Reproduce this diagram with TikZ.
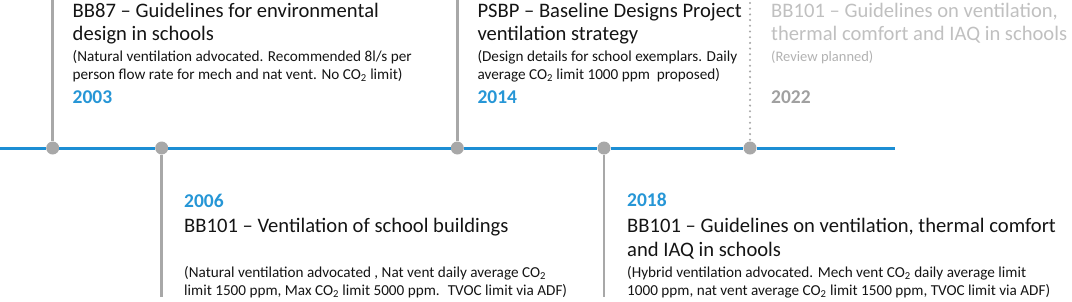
\documentclass[tikz,border=0pt]{standalone}
\usepackage{fontspec}
\setmainfont{Carlito}
\definecolor{lineblue}{RGB}{28,142,212}
\definecolor{yearblue}{RGB}{38,150,214}
\definecolor{stemgray}{RGB}{168,168,168}
\definecolor{txt}{RGB}{20,20,20}
\definecolor{ltitle}{RGB}{192,192,192}
\definecolor{lnote}{RGB}{178,178,178}
\definecolor{lyear}{RGB}{160,160,160}
\begin{document}
\begin{tikzpicture}[x=1pt,y=-1pt,
  ttl/.style={anchor=base west, inner sep=0pt, font=\fontsize{20.6}{24}\selectfont, text=txt},
  sml/.style={anchor=base west, inner sep=0pt, font=\fontsize{15.2}{18}\selectfont, text=txt},
  yr/.style={anchor=base west, inner sep=0pt, font=\fontsize{19.5}{22}\selectfont\bfseries, text=yearblue},
  dotnode/.style={circle, fill=stemgray, inner sep=0pt, minimum size=13pt},
  stem/.style={draw=stemgray, line width=2.5pt},
  axis/.style={draw=lineblue, line width=3pt}]
\useasboundingbox (0,0) rectangle (1072,301);
% dots on the axis
\node[dotnode] (d1) at (52.7,148) {};
\node[dotnode] (d2) at (161.7,148) {};
\node[dotnode] (d3) at (457.3,148) {};
\node[dotnode] (d4) at (604,148) {};
\node[dotnode] (d5) at (750,148) {};
\coordinate (a0) at (0,148);
\coordinate (a1) at (895,148);
\coordinate (t1) at (52.7,0);
\coordinate (b2) at (161.7,297);
\coordinate (t3) at (457.3,0);
\coordinate (b4) at (604,297);
\coordinate (t5) at (750,3);
% axis
\draw[axis] (a0) -- (d1) -- (d2) -- (d3) -- (d4) -- (d5) -- (a1);
% stems
\draw[stem] (t1) -- (d1);
\draw[stem] (d2) -- (b2);
\draw[stem] (t3) -- (d3);
\draw[stem] (d4) -- (b4);
\draw[draw=stemgray, line width=2.3pt, line cap=round, dash pattern=on 0pt off 5.7pt] (t5) -- (d5);
% 2003
\node[ttl] (p1a) at (72.5,17.3) {BB87 – Guidelines for environmental};
\node[ttl] (p1b) at (72.5,40.7) {design in schools};
\node[sml] (p1c) at (72.5,61) {(Natural ventilation advocated. Recommended 8l/s per};
\node[sml] (p1d) at (72.5,79.3) {person flow rate for mech and nat vent. No CO\textsubscript{2} limit)};
\node[yr] (y1) at (72.5,103.7) {2003};
% 2006
\node[yr] (y2) at (184,207.5) {2006};
\node[ttl] (p2a) at (184,232.7) {BB101 – Ventilation of school buildings};
\node[sml] (p2c) at (184,277.5) {(Natural ventilation advocated , Nat vent daily average CO\textsubscript{2}};
\node[sml] (p2d) at (184,295.5) {limit 1500 ppm, Max CO\textsubscript{2} limit 5000 ppm. \ TVOC limit via ADF)};
% 2014
\node[ttl] (p3a) at (477.3,17.3) {PSBP – Baseline Designs Project};
\node[ttl] (p3b) at (477.3,40.7) {ventilation strategy};
\node[sml] (p3c) at (477.3,61) {(Design details for school exemplars. Daily};
\node[sml] (p3d) at (477.3,79.3) {average CO\textsubscript{2} limit 1000 ppm \ proposed)};
\node[yr] (y3) at (477.3,103.7) {2014};
% 2018
\node[yr] (y4) at (627,206) {2018};
\node[ttl] (p4a) at (627,232.5) {BB101 – Guidelines on ventilation, thermal comfort};
\node[ttl] (p4b) at (627,256) {and IAQ in schools};
\node[sml] (p4c) at (627,277) {(Hybrid ventilation advocated. Mech vent CO\textsubscript{2} daily average limit};
\node[sml] (p4d) at (627,295) {1000 ppm, nat vent average CO\textsubscript{2} limit 1500 ppm, TVOC limit via ADF)};
% 2022
\node[ttl, text=ltitle] (p5a) at (771,17.3) {BB101 – Guidelines on ventilation,};
\node[ttl, text=ltitle] (p5b) at (771,40.7) {thermal comfort and IAQ in schools};
\node[sml, text=lnote, font=\fontsize{14.5}{16}\selectfont] (p5c) at (771,61.5) {(Review planned)};
\node[yr, text=lyear] (y5) at (771,103.7) {2022};
\end{tikzpicture}
\end{document}
